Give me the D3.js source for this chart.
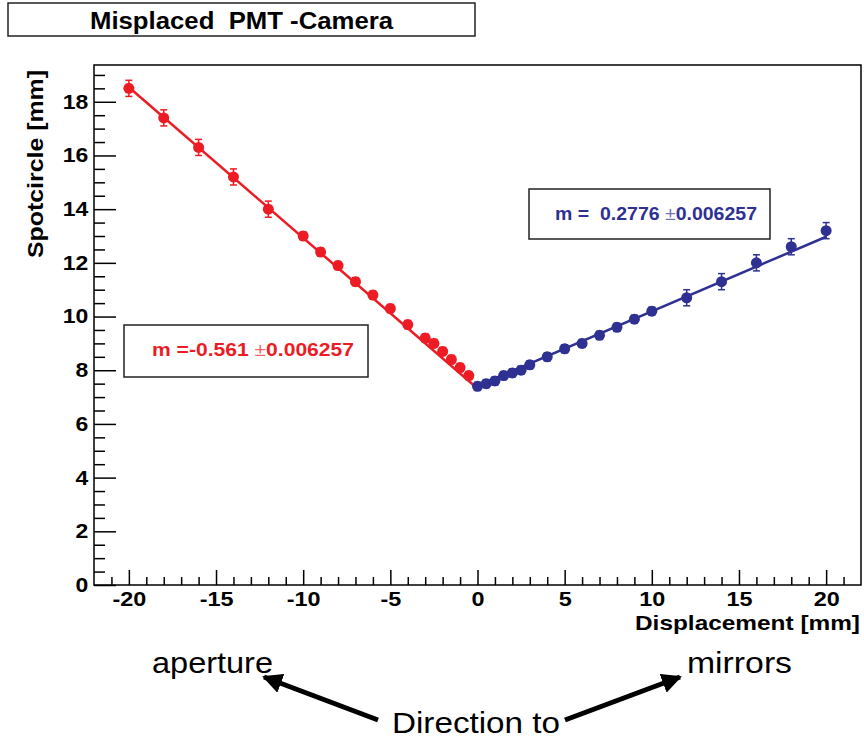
<!DOCTYPE html>
<html>
<head>
<meta charset="utf-8">
<script src="https://cdn.jsdelivr.net/npm/d3@7"></script>
<style>
  body { margin: 0; background: #fff; }
  text { font-family: "Liberation Sans", Arial, sans-serif; white-space: pre; }
</style>
</head>
<body>
<div id="chart"></div>
<script>
// data
var redX = [-20, -18, -16, -14, -12, -10, -9, -8, -7, -6, -5, -4, -3, -2.5, -2, -1.5, -1, -0.5];
var redY = [18.5, 17.4, 16.3, 15.2, 14.0, 13.0, 12.4, 11.9, 11.3, 10.8, 10.3, 9.7, 9.2, 9.0, 8.7, 8.4, 8.1, 7.8];
var redErr = [0.3, 0.3, 0.3, 0.3, 0.3, 0.15, 0.15, 0.15, 0.15, 0.15, 0.15, 0.15, 0.15, 0.15, 0.15, 0.15, 0.15, 0.15];

var blueX = [0, 0.5, 1, 1.5, 2, 2.5, 3, 4, 5, 6, 7, 8, 9, 10, 12, 14, 16, 18, 20];
var blueY = [7.4, 7.5, 7.6, 7.8, 7.9, 8.0, 8.2, 8.5, 8.8, 9.0, 9.3, 9.6, 9.9, 10.2, 10.7, 11.3, 12.0, 12.6, 13.2];
var blueErr = [0.15, 0.15, 0.15, 0.15, 0.15, 0.15, 0.15, 0.15, 0.15, 0.15, 0.15, 0.15, 0.15, 0.15, 0.3, 0.3, 0.3, 0.3, 0.3];

// straight-line fits: slope, intercept, x range
var fitSlope = [-0.561, 0.2776];
var fitIntercept = [7.32, 7.42];
var fitFrom = [-20, 0];
var fitTo = [0, 20];
var fitLabels = ["m =-0.561 ", "m =  0.2776 "];
var fitErrLabel = "0.006257";

var xMajor = [-20, -15, -10, -5, 0, 5, 10, 15, 20];
var xMinor = d3.range(-21, 22, 1).filter(function (v) { return v % 5 !== 0; });
var yMajor = [0, 2, 4, 6, 8, 10, 12, 14, 16, 18];
var yMinor = d3.range(0.5, 19.4, 0.5).filter(function (v) { return v % 2 !== 0; });

var red = "#ED1C24", blue = "#2E3192";
var font = "\"Liberation Sans\", Arial, sans-serif";

var svg = d3.select("#chart")
  .append("svg")
    .attr("width", 864)
    .attr("height", 740);

// plot frame
var frame = {left: 94, right: 861, top: 65, bottom: 585};

var x = d3.scaleLinear()
  .domain([-22, 22])
  .range([frame.left, frame.right]);

var y = d3.scaleLinear()
  .domain([0, 19.37])
  .range([frame.bottom, frame.top]);

// plain hyphen minus like the original
var plain = function (d) { return String(d); };

// title box
svg.append("rect")
  .attr("x", 8).attr("y", 3).attr("width", 467).attr("height", 33)
  .attr("fill", "none").attr("stroke", "#222").attr("stroke-width", 1.5);
svg.append("text")
  .attr("x", 241.5).attr("y", 28.5)
  .attr("text-anchor", "middle")
  .attr("font-size", 23.5).attr("font-weight", "bold")
  .attr("textLength", 303).attr("lengthAdjust", "spacingAndGlyphs")
  .text("Misplaced  PMT -Camera");

// minor ticks
svg.append("g")
  .attr("transform", "translate(0," + frame.bottom + ")")
  .call(d3.axisBottom(x).tickValues(xMinor).tickSize(-8).tickFormat(""))
  .call(function (g) { g.select(".domain").remove(); })
  .selectAll("line").attr("stroke-width", 1.5);

svg.append("g")
  .attr("transform", "translate(" + frame.left + ",0)")
  .call(d3.axisLeft(y).tickValues(yMinor).tickSize(-11).tickFormat(""))
  .call(function (g) { g.select(".domain").remove(); })
  .selectAll("line").attr("stroke-width", 1.5);

// major ticks and labels
var gx = svg.append("g")
  .attr("transform", "translate(0," + frame.bottom + ")")
  .call(d3.axisBottom(x).tickValues(xMajor).tickSize(-15).tickPadding(7).tickFormat(plain));
gx.select(".domain").remove();
gx.selectAll("line").attr("stroke-width", 1.5);
gx.selectAll("text")
  .attr("font-family", font).attr("font-size", 19.5).attr("font-weight", "bold")
  .attr("fill", "#000")
  .attr("transform", "scale(1.2,1)");

var gy = svg.append("g")
  .attr("transform", "translate(" + frame.left + ",0)")
  .call(d3.axisLeft(y).tickValues(yMajor).tickSize(-22).tickPadding(5).tickFormat(plain));
gy.select(".domain").remove();
gy.selectAll("line").attr("stroke-width", 1.5);
gy.selectAll("text")
  .attr("font-family", font).attr("font-size", 20).attr("font-weight", "bold")
  .attr("fill", "#000")
  .attr("transform", "scale(1.15,1)");

svg.append("rect")
  .attr("x", frame.left).attr("y", frame.top)
  .attr("width", frame.right - frame.left).attr("height", frame.bottom - frame.top)
  .attr("fill", "none").attr("stroke", "#000").attr("stroke-width", 1.5);

// axis titles
svg.append("text")
  .attr("x", 860).attr("y", 630)
  .attr("text-anchor", "end")
  .attr("font-size", 20.5).attr("font-weight", "bold")
  .attr("textLength", 225).attr("lengthAdjust", "spacingAndGlyphs")
  .text("Displacement [mm]");

svg.append("text")
  .attr("transform", "translate(43,70) rotate(-90)")
  .attr("text-anchor", "end")
  .attr("font-size", 22).attr("font-weight", "bold")
  .attr("textLength", 188).attr("lengthAdjust", "spacingAndGlyphs")
  .text("Spotcircle [mm]");

// fit lines
var fitColors = [red, blue];
fitSlope.forEach(function (m, i) {
  svg.append("line")
    .attr("x1", x(fitFrom[i])).attr("y1", y(m * fitFrom[i] + fitIntercept[i]))
    .attr("x2", x(fitTo[i])).attr("y2", y(m * fitTo[i] + fitIntercept[i]))
    .attr("stroke", fitColors[i]).attr("stroke-width", 2.5);
});

// points with error bars
function drawSeries(xs, ys, errs, color) {
  var data = xs.map(function (d, i) { return {x: d, y: ys[i], e: errs[i]}; });
  var g = svg.append("g");
  var bars = g.selectAll(".err").data(data).enter().append("g")
    .attr("stroke", color).attr("stroke-width", 1.5);
  bars.append("line")
    .attr("x1", function (d) { return x(d.x); })
    .attr("x2", function (d) { return x(d.x); })
    .attr("y1", function (d) { return y(d.y - d.e); })
    .attr("y2", function (d) { return y(d.y + d.e); });
  [-1, 1].forEach(function (s) {
    bars.append("line")
      .attr("x1", function (d) { return x(d.x) - 3.5; })
      .attr("x2", function (d) { return x(d.x) + 3.5; })
      .attr("y1", function (d) { return y(d.y + s * d.e); })
      .attr("y2", function (d) { return y(d.y + s * d.e); });
  });
  g.selectAll("circle").data(data).enter().append("circle")
    .attr("cx", function (d) { return x(d.x); })
    .attr("cy", function (d) { return y(d.y); })
    .attr("r", 5.5)
    .attr("fill", color);
}
drawSeries(redX, redY, redErr, red);
drawSeries(blueX, blueY, blueErr, blue);

// fit result boxes
var boxes = [
  {x: 124, y: 325, w: 244, h: 52, tx: 152, ty: 356, len: 202},
  {x: 529, y: 189, w: 241, h: 50, tx: 555, ty: 220, len: 202}
];
boxes.forEach(function (b, i) {
  svg.append("rect")
    .attr("x", b.x).attr("y", b.y).attr("width", b.w).attr("height", b.h)
    .attr("fill", "#fff").attr("stroke", "#222").attr("stroke-width", 1.5);
  var t = svg.append("text")
    .attr("x", b.tx).attr("y", b.ty)
    .attr("font-size", 19).attr("font-weight", "bold")
    .attr("fill", fitColors[i])
    .attr("textLength", b.len).attr("lengthAdjust", "spacingAndGlyphs");
  t.append("tspan").text(fitLabels[i]);
  t.append("tspan").attr("font-weight", "normal").attr("fill-opacity", 0.7).text("\u00B1");
  t.append("tspan").text(fitErrLabel);
});

// annotation below the plot
var notes = [
  {text: "aperture", x: 152, y: 673, len: 121},
  {text: "mirrors", x: 687, y: 673, len: 105},
  {text: "Direction to", x: 392, y: 733, len: 168}
];
notes.forEach(function (n) {
  svg.append("text")
    .attr("x", n.x).attr("y", n.y)
    .attr("font-size", 29)
    .attr("textLength", n.len).attr("lengthAdjust", "spacingAndGlyphs")
    .text(n.text);
});

svg.append("defs").append("marker")
  .attr("id", "head")
  .attr("viewBox", "0 0 10 10")
  .attr("refX", 9).attr("refY", 5)
  .attr("markerWidth", 4).attr("markerHeight", 4)
  .attr("markerUnits", "strokeWidth")
  .attr("orient", "auto")
  .append("path").attr("d", "M0,0 L10,5 L0,10 Z").attr("fill", "#000");

var arrows = [
  [[378, 720], [264, 677]],
  [[565, 720], [680, 677]]
];
arrows.forEach(function (a) {
  svg.append("line")
    .attr("x1", a[0][0]).attr("y1", a[0][1])
    .attr("x2", a[1][0]).attr("y2", a[1][1])
    .attr("stroke", "#000").attr("stroke-width", 5)
    .attr("marker-end", "url(#head)");
});
</script>
</body>
</html>
